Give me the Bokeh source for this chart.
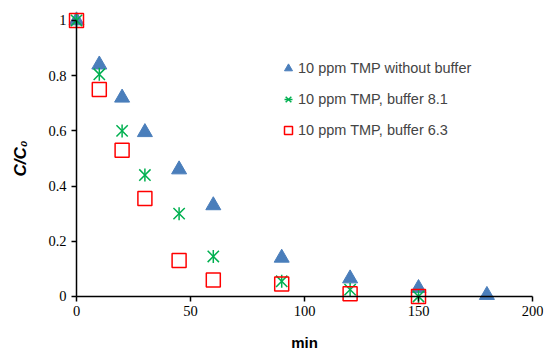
import math
from bokeh.plotting import figure
from bokeh.models import Range1d, Legend, LegendItem, FixedTicker
from bokeh.embed import file_html
from bokeh.resources import INLINE

t_a = [0, 10, 20, 30, 45, 60, 90, 120, 150, 180]
c_nobuf = [1.0, 0.84, 0.72, 0.595, 0.46, 0.33, 0.14, 0.065, 0.03, 0.005]
t_b = [0, 10, 20, 30, 45, 60, 90, 120, 150]
c_buf81 = [1.0, 0.805, 0.60, 0.44, 0.30, 0.145, 0.055, 0.025, 0.0]
c_buf63 = [1.0, 0.75, 0.53, 0.355, 0.13, 0.06, 0.045, 0.01, 0.0]
labels = ["10 ppm TMP without buffer", "10 ppm TMP, buffer 8.1", "10 ppm TMP, buffer 6.3"]
x_ticks = [0, 50, 100, 150, 200]
y_ticks = [0, 0.2, 0.4, 0.6, 0.8, 1]

p = figure(width=548, height=355, output_backend="svg", toolbar_location=None,
           x_range=Range1d(-31.14, 204.82), y_range=Range1d(-0.203, 1.0362),
           min_border_left=5, min_border_right=5, min_border_top=10, min_border_bottom=3)
p.outline_line_color = None
p.grid.visible = False
p.background_fill_color = "white"

r1 = p.scatter(t_a, c_nobuf, marker="triangle", size=15, fill_color="#4a7ebb", line_color="#4a7ebb")
r2a = p.scatter(t_b, c_buf81, marker="x", size=16, line_color="#00b050", line_width=1.5)
r2b = p.scatter(t_b, c_buf81, marker="dash", size=13, angle=math.pi / 2, line_color="#00b050", line_width=1.5)
r3 = p.scatter(t_b, c_buf63, marker="square", size=14, fill_color=None, line_color="#ff0000", line_width=1.5)

for ax in (p.xaxis[0], p.yaxis[0]):
    ax.fixed_location = 0
    ax.axis_line_color = "black"
    ax.axis_line_width = 1.5
    ax.major_tick_in = 0
    ax.major_tick_out = 5
    ax.major_tick_line_width = 1.5
    ax.minor_tick_line_color = None
    ax.major_label_text_font = "Liberation Serif"
    ax.major_label_text_font_size = "14.5px"
    ax.major_label_text_color = "black"
    ax.axis_label_text_font_style = "bold"
    ax.axis_label_text_font = "Liberation Sans"
    ax.axis_label_text_color = "black"

p.xaxis.ticker = FixedTicker(ticks=x_ticks)
p.yaxis.ticker = FixedTicker(ticks=y_ticks)
p.xaxis.bounds = (0, 200)
p.yaxis.bounds = (0, 1)
p.xaxis.axis_label = "min"
p.xaxis.axis_label_text_font_size = "15px"
p.xaxis.axis_label_standoff = 14
p.yaxis.axis_label = "C/C₀"
p.yaxis.axis_label_text_font_size = "17px"
p.yaxis.axis_label_standoff = 15
p.yaxis.axis_label_text_font_style = "bold italic"
p.yaxis.major_label_overrides = {0: "0", 1: "1"}

legend = Legend(items=[LegendItem(label=labels[0], renderers=[r1]),
                       LegendItem(label=labels[1], renderers=[r2a, r2b]),
                       LegendItem(label=labels[2], renderers=[r3])],
                location=(273, 212), border_line_color=None, background_fill_alpha=0,
                padding=0, spacing=11, glyph_height=20, glyph_width=20, label_height=20,
                label_standoff=0, label_text_font="Liberation Sans", label_text_font_size="14.5px")
p.add_layout(legend)

open("out.html", "w").write(file_html(p, INLINE))
